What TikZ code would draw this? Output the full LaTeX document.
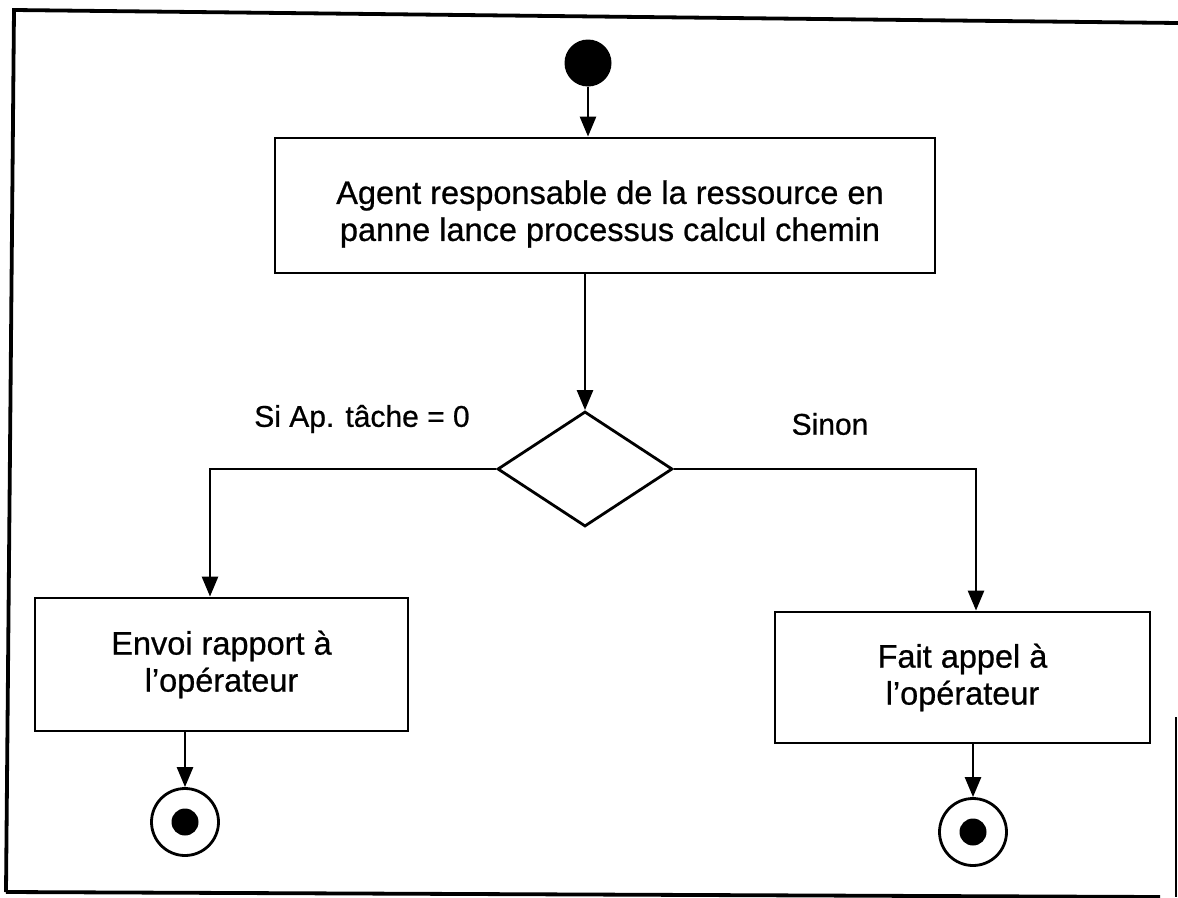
\documentclass[tikz,border=0pt]{standalone}
\usepackage{fontspec}
\setmainfont{Liberation Sans}
\newfontfamily\scanfont{Liberation Sans}[FakeBold=0.7]
\usetikzlibrary{arrows.meta,shapes.geometric}
\begin{document}
\begin{tikzpicture}[x=1pt,y=-1pt,
  box/.style={draw, line width=2.8pt, rectangle, align=center, inner sep=0pt,
    font=\scanfont\fontsize{32.5}{37}\selectfont},
  txt/.style={align=center, inner sep=0pt, font=\scanfont\fontsize{32.5}{37}\selectfont},
  conn/.style={line width=2.6pt, -{Triangle[length=20pt,width=16pt]}},
  lbl/.style={font=\scanfont\fontsize{30}{34}\selectfont, inner sep=0pt},
  endring/.style={circle, draw, line width=2.8pt, minimum size=67pt, inner sep=0pt},
  dot/.style={circle, fill=black, inner sep=0pt}
]
\useasboundingbox (0,0) rectangle (1178,897);
% frame
\draw[line width=3.8pt] (6,892) -- (14,10) -- (1178,23);
\draw[line width=3.8pt] (6,892) -- (1160,897);
\draw[line width=2.2pt] (1176,717) -- (1176,897);

\node[dot, minimum size=47pt] (start) at (588,63) {};
\node[box, minimum width=660pt, minimum height=135pt] (main) at (605,205.5) {};
\node[txt] (maintxt) at (610,214)
  {Agent responsable de la ressource en\\panne lance processus calcul chemin};
\node[diamond, draw, line width=2.8pt, minimum width=175pt, minimum height=115pt,
  inner sep=0pt, aspect=1.52] (dec) at (585,469) {};
\node[box, minimum width=373pt, minimum height=133pt] (lbox) at (221.5,664.5)
  {Envoi rapport à\\l’opérateur};
\node[box, minimum width=375pt, minimum height=131pt] (rbox) at (962.5,677.5)
  {Fait appel à\\l’opérateur};
\node[endring] (lend) at (185,822) {};
\node[dot, minimum size=27pt] (ldot) at (lend.center) {};
\node[endring] (rend) at (973,832) {};
\node[dot, minimum size=27pt] (rdot) at (rend.center) {};

\node[lbl] (lyes) at (362,419) {Si Ap. tâche = 0};
\node[lbl] (lno) at (830,424) {Sinon};

\coordinate (lin) at ([xshift=-11.5pt]lbox.north);
\coordinate (rin) at ([xshift=13.5pt]rbox.north);

\draw[conn] (start.south) -- (start.south |- main.north);
\draw[conn] (dec.north |- main.south) -- (dec.north);
\draw[conn] (dec.west) -| (lin);
\draw[conn] (dec.east) -| (rin);
\draw[conn] (lend.north |- lbox.south) -- (lend.north);
\draw[conn] (rend.north |- rbox.south) -- (rend.north);
\end{tikzpicture}
\end{document}
